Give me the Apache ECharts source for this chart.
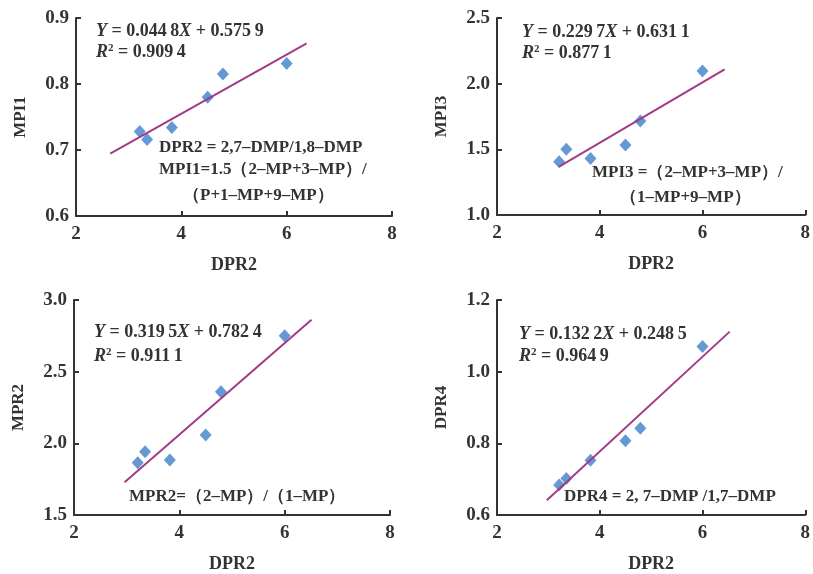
<!DOCTYPE html>
<html>
<head>
<meta charset="utf-8">
<script src="https://cdn.jsdelivr.net/npm/echarts@6/dist/echarts.min.js"></script>
<style>
  html, body { margin: 0; padding: 0; background: #fff; }
  #chart { width: 813px; height: 574px; }
</style>
</head>
<body>
<div id="chart"></div>
<script>
// DPR2 on the x axis of all four panels
const dpr2 = [3.21, 3.35, 3.82, 4.5, 4.79, 6.0];
const mpi1 = [0.728, 0.716, 0.734, 0.780, 0.815, 0.831];
const mpi3 = [1.405, 1.500, 1.430, 1.533, 1.715, 2.096];
const mpr2 = [1.865, 1.942, 1.884, 2.058, 2.360, 2.750];
const dpr4 = [0.684, 0.702, 0.753, 0.807, 0.842, 1.070];

// fitted lines (Y = kX + b) and the x range they are drawn over
const slopes = [0.0448, 0.2297, 0.3195, 0.1322];
const intercepts = [0.5759, 0.6311, 0.7824, 0.2485];
const fitFrom = [2.65, 3.21, 2.96, 2.97];
const fitTo = [6.38, 6.43, 6.51, 6.53];

const yNames = ['MPI1', 'MPI3', 'MPR2', 'DPR4'];
const yMin = [0.6, 1.0, 1.5, 0.6];
const yMax = [0.9, 2.5, 3.0, 1.2];
const yStep = [0.1, 0.5, 0.5, 0.2];
const xTicks = [2, 4, 6, 8];

const ys = [mpi1, mpi3, mpr2, dpr4];
const FONT = '"Liberation Serif", "Times New Roman", serif';
const INK = '#333';

const grids = [
  {left: 76, top: 18, width: 316, height: 198},
  {left: 497, top: 18, width: 311, height: 197},
  {left: 74, top: 300, width: 316, height: 215},
  {left: 497, top: 300, width: 310, height: 215}
];

const xAxes = [], yAxes = [], series = [];
grids.forEach((g, i) => {
  xAxes.push({
    gridIndex: i, type: 'value', min: xTicks[0], max: xTicks[xTicks.length - 1], interval: 2,
    name: 'DPR2', nameLocation: 'middle', nameGap: 40,
    nameTextStyle: {fontFamily: FONT, fontWeight: 'bold', fontSize: 18, color: INK},
    axisLine: {lineStyle: {color: INK, width: 2}},
    axisTick: {inside: true, length: 5, lineStyle: {color: INK, width: 2}},
    axisLabel: {fontFamily: FONT, fontWeight: 'bold', fontSize: 19, color: INK, margin: 9},
    splitLine: {show: false}
  });
  yAxes.push({
    gridIndex: i, type: 'value', min: yMin[i], max: yMax[i], interval: yStep[i],
    name: yNames[i], nameLocation: 'middle', nameGap: 47, nameRotate: 90,
    nameTextStyle: {fontFamily: FONT, fontWeight: 'bold', fontSize: 17, color: INK},
    axisLine: {lineStyle: {color: INK, width: 2}},
    axisTick: {inside: true, length: 5, lineStyle: {color: INK, width: 2}},
    axisLabel: {fontFamily: FONT, fontWeight: 'bold', fontSize: 19, color: INK, margin: 7,
      formatter: v => v.toFixed(1)},
    splitLine: {show: false}
  });
  series.push({
    type: 'line', xAxisIndex: i, yAxisIndex: i, symbol: 'none', silent: true,
    lineStyle: {color: '#a23b86', width: 2},
    data: [fitFrom[i], fitTo[i]].map(x => [x, slopes[i] * x + intercepts[i]])
  });
  series.push({
    type: 'scatter', xAxisIndex: i, yAxisIndex: i, symbol: 'diamond', symbolSize: [12, 13],
    itemStyle: {color: '#3f7fcb'},
    data: dpr2.map((x, k) => [x, ys[i][k]])
  });
});

const rich = {
  i: {fontFamily: FONT, fontStyle: 'italic', fontWeight: 'bold', fontSize: 18, color: INK},
  n: {fontFamily: FONT, fontWeight: 'bold', fontSize: 18, color: INK},
  s: {fontFamily: FONT, fontWeight: 'bold', fontSize: 11, color: INK, verticalAlign: 'top', padding: [0, 0, 8, 0]}
};
function eq(x, y, k, b) {
  return {type: 'text', left: x, top: y, style: {rich,
    text: '{i|Y}{n| = ' + k + '}{i|X}{n| + ' + b + '}', fill: INK}};
}
function r2(x, y, v) {
  return {type: 'text', left: x, top: y, style: {rich,
    text: '{i|R}{s|2}{n| = ' + v + '}', fill: INK}};
}
function note(x, y, t) {
  return {type: 'text', left: x, top: y, style: {text: t, fill: INK,
    font: 'bold 17px ' + FONT}};
}

const chart = echarts.init(document.getElementById('chart'));
chart.setOption({
  backgroundColor: '#fff',
  animation: false,
  grid: grids,
  xAxis: xAxes,
  yAxis: yAxes,
  series: series,
  graphic: [
    eq(96, 22, '0.044\u20098', '0.575\u20099'),
    r2(96, 43, '0.909\u20094'),
    note(159, 139, 'DPR2 = 2,7–DMP/1,8–DMP'),
    note(159, 161, 'MPI1=1.5（2–MP+3–MP）/'),
    note(183, 187, '（P+1–MP+9–MP）'),

    eq(522, 23, '0.229\u20097', '0.631\u20091'),
    r2(522, 44, '0.877\u20091'),
    note(592, 164, 'MPI3 =（2–MP+3–MP）/'),
    note(620, 189, '（1–MP+9–MP）'),

    eq(94, 323, '0.319\u20095', '0.782\u20094'),
    r2(94, 347, '0.911\u20091'),
    note(129, 488, 'MPR2=（2–MP）/（1–MP）'),

    eq(519, 325, '0.132\u20092', '0.248\u20095'),
    r2(519, 347, '0.964\u20099'),
    note(564, 488, 'DPR4 = 2, 7–DMP /1,7–DMP')
  ]
});
</script>
</body>
</html>
